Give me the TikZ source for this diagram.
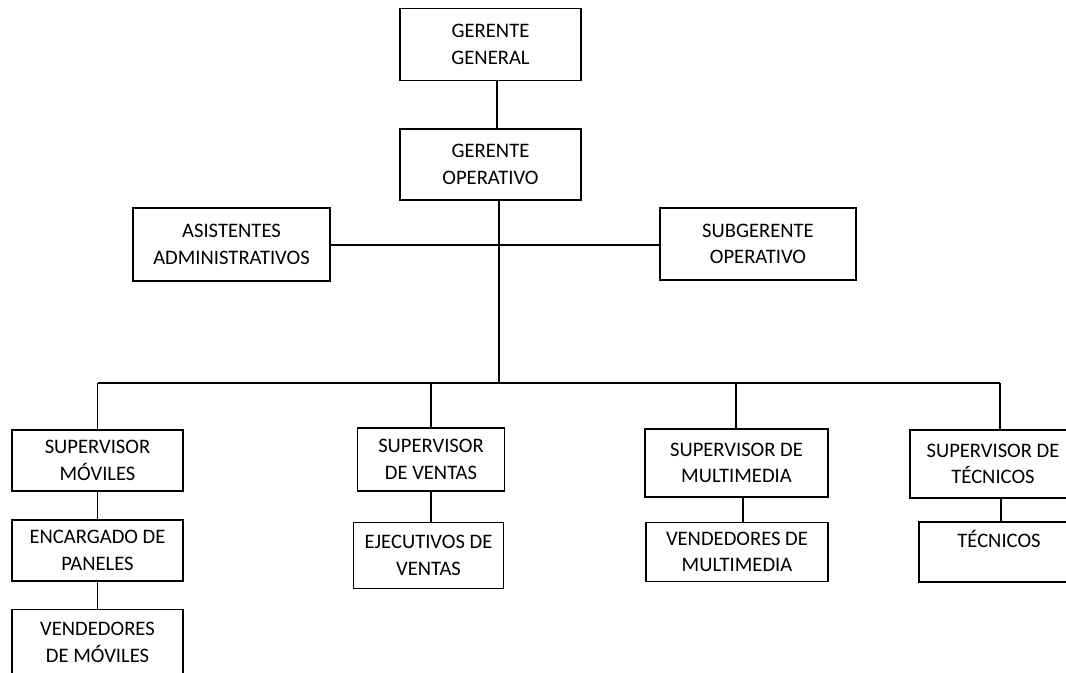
\documentclass[tikz,border=0pt]{standalone}
\usepackage{fontspec}
\setmainfont{Carlito}
\begin{document}
\begin{tikzpicture}[x=0.5pt,y=-0.5pt,
  line width=0.65pt,
  box/.style={draw, line width=0.65pt, align=center, inner sep=0pt,
    font=\fontsize{10.3}{13.3}\selectfont},
  link/.style={draw, line width=0.65pt}]
\useasboundingbox (0,0) rectangle (1066,673);
\fill[white] (0,0) rectangle (1066,673);
% boxes
\node[box, minimum width=90.5pt, minimum height=36pt] (gg) at (490.5,44.5) {GERENTE\\GENERAL};
\node[box, minimum width=90.5pt, minimum height=35.5pt] (go) at (490.5,164.5) {GERENTE\\OPERATIVO};
\node[box, minimum width=98.5pt, minimum height=36.5pt] (as) at (231.5,244.5) {ASISTENTES\\ADMINISTRATIVOS};
\node[box, minimum width=98pt, minimum height=36pt] (sg) at (758,244) {SUBGERENTE\\OPERATIVO};
\node[box, minimum width=85.5pt, minimum height=30.5pt] (sm) at (97.5,460.5) {SUPERVISOR\\MÓVILES};
\node[box, minimum width=85.5pt, minimum height=30.5pt] (ep) at (97.5,550.5) {ENCARGADO DE\\PANELES};
\node[box, minimum width=85.5pt, minimum height=33pt] (vm) at (97.5,642.5) {VENDEDORES\\DE MÓVILES};
\node[box, minimum width=73.5pt, minimum height=31.5pt] (sv) at (431,459.5) {SUPERVISOR\\DE VENTAS};
\node[box, minimum width=75pt, minimum height=33pt] (ev) at (428.5,555.5) {EJECUTIVOS DE\\VENTAS};
\node[box, minimum width=91.5pt, minimum height=34pt] (smu) at (736.5,463) {SUPERVISOR DE\\MULTIMEDIA};
\node[box, minimum width=91pt, minimum height=29.5pt] (vmu) at (737,552) {VENDEDORES DE\\MULTIMEDIA};
\node[box, minimum width=83pt, minimum height=34pt] (st) at (993,464) {SUPERVISOR DE\\TÉCNICOS};
\node[box, minimum width=80pt, minimum height=30pt] (tc) at (999,552) {TÉCNICOS\\\mbox{}};
% junction coordinates
\coordinate (j1) at (497,0);
\coordinate (jc) at (499,245);
\coordinate (jb) at (499,383);
\coordinate (b1) at (97.5,383);
\coordinate (b2) at (431,383);
\coordinate (b3) at (736,383);
\coordinate (b4) at (1000,383);
\coordinate (x3) at (743,0);
\coordinate (x4) at (1001,0);
% connectors
\draw[link] (gg.south -| j1) -- (go.north -| j1);
\draw[link] (go.south -| jb) -- (jb);
\draw[link] (as.east |- jc) -- (sg.west |- jc);
\draw[link] (b1) -- (b4);
\draw[link] (b1) -- (sm.north -| b1);
\draw[link] (b2) -- (sv.north -| b2);
\draw[link] (b3) -- (smu.north -| b3);
\draw[link] (b4) -- (st.north -| b4);
\draw[link] (sm.south) -- (ep.north);
\draw[link] (ep.south) -- (vm.north);
\draw[link] (sv.south -| b2) -- (ev.north -| b2);
\draw[link] (smu.south -| x3) -- (vmu.north -| x3);
\draw[link] (st.south -| x4) -- (tc.north -| x4);
\end{tikzpicture}
\end{document}
